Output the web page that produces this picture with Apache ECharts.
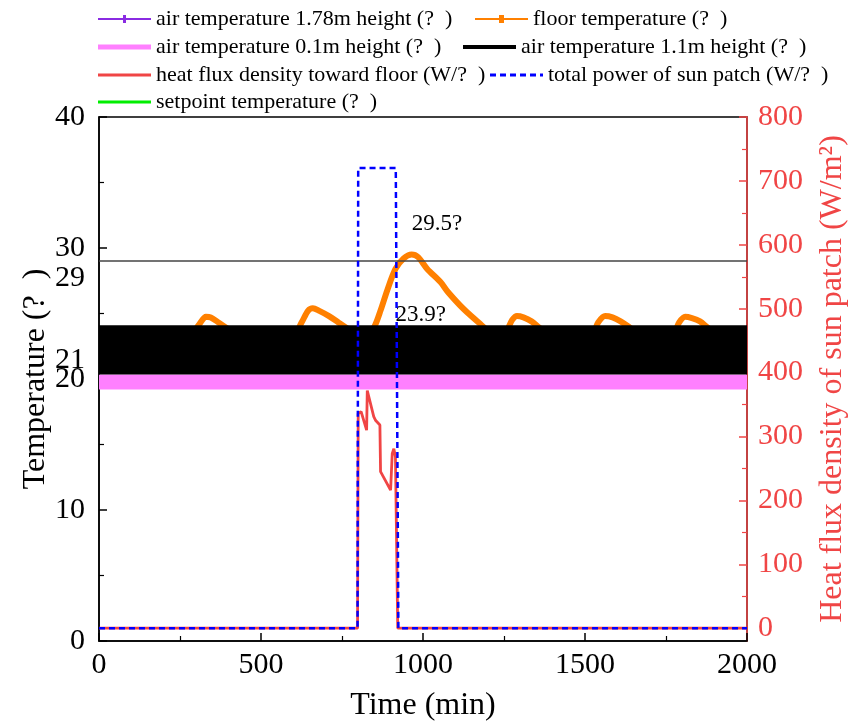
<!DOCTYPE html>
<html><head><meta charset="utf-8">
<script src="https://cdn.jsdelivr.net/npm/echarts@6/dist/echarts.min.js"></script>
<style>html,body{margin:0;padding:0;background:#fff}#c{width:850px;height:727px}</style>
</head><body><div id="c"></div>
<script>
// ---------- data ----------
const xRange = [0, 2000];
const xTicks = [0, 500, 1000, 1500, 2000];
const leftTicks = [0, 10, 20, 30, 40];
const leftExtraLabels = [29, 21];
const rightTicks = [0, 100, 200, 300, 400, 500, 600, 700, 800];
const rightMinorTicks = [50, 150, 250, 350, 450, 550, 650, 750];

const floorTime = [0, 280, 310, 330, 345, 370, 400, 430, 600, 625, 645, 660, 680, 710, 740, 770, 800, 830, 850, 870, 890, 915, 940, 965, 985, 1013, 1054, 1075, 1115, 1136, 1177, 1200, 1230, 1260, 1275, 1290, 1310, 1335, 1360, 1390, 1520, 1540, 1562, 1585, 1610, 1640, 1670, 1770, 1790, 1809, 1830, 1855, 1880, 1910, 2000];
const floorTemp = [23.3, 23.4, 24.2, 24.75, 24.7, 24.3, 23.8, 23.4, 23.4, 24.3, 25.2, 25.4, 25.2, 24.8, 24.3, 23.8, 23.4, 23.5, 24.0, 25.3, 26.8, 28.4, 29.2, 29.5, 29.3, 28.4, 27.4, 26.7, 25.6, 25.1, 24.2, 23.7, 23.4, 23.8, 24.5, 24.8, 24.7, 24.4, 23.9, 23.4, 23.4, 24.3, 24.8, 24.7, 24.4, 23.9, 23.4, 23.4, 24.3, 24.75, 24.65, 24.4, 23.9, 23.4, 23.4];

const air178Time = [0, 2000];
const air178Temp = [22.0, 22.0];

// 0.1 m air temperature: band between its lowest and highest values
const air01Time = [0, 2000];
const air01High = [20.35, 20.35];
const air01Low = 19.2;

// 1.1 m air temperature: band between its lowest and highest values
const air11Time = [0, 2000];
const air11High = [24.1, 24.1];
const air11Low = 20.35;

const setpointTime = [0, 2000];
const setpointTemp = [21, 21];

const fluxTime = [0, 798, 800, 809, 826, 828, 848, 854, 867, 869, 900, 905, 910, 915, 922, 2000];
const fluxVal  = [0, 0, 336, 339, 310, 372, 331, 325, 318, 245, 216, 273, 281, 268, 0, 0];

const sunTime = [0, 798, 800, 916, 924, 2000];
const sunVal  = [0, 0, 720, 720, 0, 0];

const refLineValue = 29;
const annotations = [
  { x: 965, y: 29.5, text: '29.5?', dy: -31 },
  { x: 915, y: 23.9, text: '23.9?', dy: -13 }
];

const names = {
  a178: 'air temperature 1.78m height (?  )',
  floor: 'floor temperature (?  )',
  a01: 'air temperature 0.1m height (?  )',
  a11: 'air temperature 1.1m height (?  )',
  flux: 'heat flux density toward floor (W/?  )',
  sun: 'total power of sun patch (W/?  )',
  set: 'setpoint temperature (?  )'
};

// ---------- styles ----------
const FONT = 'Liberation Serif';
const RED = '#f04545';
const zip = (a, b) => a.map((v, i) => [v, b[i]]);

const chart = echarts.init(document.getElementById('c'), null, { renderer: 'canvas' });

function legend(name, left, top, icon, h) {
  return {
    data: [{ name: name, icon: icon }], left: left, top: top, padding: 0, itemGap: 0,
    itemWidth: 53, itemHeight: h, selectedMode: false, symbolKeepAspect: false,
    textStyle: { fontFamily: FONT, fontSize: 22, color: '#000' }
  };
}
const markerLine = 'path://M0,3.2h53v1.6h-53z M25,1h3v6h-3z';
const squareLine = 'path://M0,3.2h53v1.6h-53z M24,1h5v6h-5z';
const dashLine = 'path://M0,0h6v3h-6z M10,0h6v3h-6z M20,0h6v3h-6z M30,0h6v3h-6z M40,0h6v3h-6z M50,0h3v3h-3z';

const option = {
  animation: false,
  backgroundColor: '#fff',
  legend: [
    legend(names.a178, 98, 8, markerLine, 8),
    legend(names.floor, 475, 8, squareLine, 8),
    legend(names.a01, 98, 36, 'rect', 5),
    legend(names.a11, 463, 36, 'rect', 4),
    legend(names.flux, 98, 64, 'rect', 3),
    legend(names.sun, 490, 64, dashLine, 3),
    legend(names.set, 98, 91, 'rect', 3)
  ],
  grid: { left: 99, right: 103, top: 117, bottom: 86, show: true, borderColor: '#000', borderWidth: 1.5,
          containLabel: false, outerBoundsMode: 'none' },
  xAxis: {
    type: 'value', min: xRange[0], max: xRange[1], interval: 500,
    name: 'Time (min)', nameLocation: 'middle', nameGap: 49, nameMoveOverlap: false,
    nameTextStyle: { fontFamily: FONT, fontSize: 32, color: '#000' },
    axisLine: { show: true, lineStyle: { color: '#000', width: 1.5 } },
    axisTick: { show: true, inside: true, length: 8, lineStyle: { color: '#000', width: 1.5 } },
    minorTick: { show: true, splitNumber: 2, length: 5, lineStyle: { color: '#000', width: 1.2 } },
    axisLabel: { fontFamily: FONT, fontSize: 30, color: '#000', margin: 9, customValues: xTicks, formatter: v => String(v) },
    splitLine: { show: false }
  },
  yAxis: [
    {
      type: 'value', position: 'left', min: 0, max: 40, interval: 10,
      name: 'Temperature (?  )', nameLocation: 'middle', nameGap: 47, nameMoveOverlap: false,
      nameTextStyle: { fontFamily: FONT, fontSize: 32, color: '#000' },
      axisLine: { show: true, lineStyle: { color: '#000', width: 1.5 } },
      axisTick: { show: true, inside: true, length: 8, lineStyle: { color: '#000', width: 1.5 } },
      minorTick: { show: true, splitNumber: 2, length: 5, lineStyle: { color: '#000', width: 1.2 } },
      axisLabel: { fontFamily: FONT, fontSize: 30, color: '#000', margin: 14, customValues: leftTicks, formatter: v => String(v) },
      splitLine: { show: false }
    },
    {
      type: 'value', position: 'right', min: -20, max: 800,
      name: 'Heat flux density of sun patch (W/m²)', nameLocation: 'middle', nameGap: 70, nameMoveOverlap: false,
      nameRotate: 90,
      nameTextStyle: { fontFamily: FONT, fontSize: 32, color: RED },
      axisLine: { show: true, lineStyle: { color: RED, width: 1.5 } },
      axisTick: { show: true, inside: true, length: 8, customValues: rightTicks, lineStyle: { color: RED, width: 1.5 } },
      axisLabel: { fontFamily: FONT, fontSize: 30, color: RED, margin: 11, customValues: rightTicks },
      splitLine: { show: false }
    },
    {
      type: 'value', position: 'right', min: -20, max: 800,
      axisLine: { show: false },
      axisTick: { show: true, inside: true, length: 5, customValues: rightMinorTicks, lineStyle: { color: RED, width: 1.2 } },
      axisLabel: { show: false },
      splitLine: { show: false }
    }
  ],
  series: [
    {
      name: names.set, type: 'line', yAxisIndex: 0, z: 2, data: zip(setpointTime, setpointTemp),
      symbol: 'none', lineStyle: { color: '#00ee00', width: 2 }, itemStyle: { color: '#00ee00' }
    },
    {
      name: names.a178, type: 'line', yAxisIndex: 0, z: 2, data: zip(air178Time, air178Temp),
      symbol: 'none', lineStyle: { color: '#8a2be2', width: 1.5 }, itemStyle: { color: '#8a2be2' }
    },
    {
      name: names.a01, type: 'line', yAxisIndex: 0, z: 3, data: zip(air01Time, air01High),
      symbol: 'none', lineStyle: { color: '#ff80ff', width: 0 }, itemStyle: { color: '#ff80ff' },
      areaStyle: { color: '#ff80ff', opacity: 1, origin: air01Low }
    },
    {
      name: names.floor, type: 'line', yAxisIndex: 0, z: 3, data: zip(floorTime, floorTemp),
      symbol: 'none', smooth: 0.3,
      lineStyle: { color: '#ff8000', width: 6 }, itemStyle: { color: '#ff8000' }
    },
    {
      name: names.a11, type: 'line', yAxisIndex: 0, z: 4, data: zip(air11Time, air11High),
      symbol: 'none', lineStyle: { color: '#000', width: 0 }, itemStyle: { color: '#000' },
      areaStyle: { color: '#000', opacity: 1, origin: air11Low },
      markLine: {
        silent: true, symbol: 'none', label: { show: false },
        lineStyle: { color: '#444', width: 1.5, type: 'solid' },
        data: [{ yAxis: refLineValue }]
      },
      markPoint: {
        symbol: 'circle', symbolSize: 0,
        data: annotations.map(a => ({
          coord: [a.x, a.y], value: a.text,
          label: { show: true, formatter: a.text, position: [0, a.dy], align: 'left', verticalAlign: 'middle',
                   fontFamily: FONT, fontSize: 23, color: '#000' }
        }))
      }
    },
    {
      name: names.flux, type: 'line', yAxisIndex: 1, z: 5, data: zip(fluxTime, fluxVal),
      symbol: 'none', lineStyle: { color: RED, width: 2.8 }, itemStyle: { color: RED }
    },
    {
      name: names.sun, type: 'line', yAxisIndex: 1, z: 6, data: zip(sunTime, sunVal),
      symbol: 'none', lineStyle: { color: '#0000ff', width: 2.5, type: [6, 4] }, itemStyle: { color: '#0000ff' }
    }
  ]
};
chart.setOption(option);

// extra left-axis labels (29, 21) placed next to their values
const axisX = chart.convertToPixel({ xAxisIndex: 0 }, xRange[0]);
const labelShift = { 29: 17, 21: -6 };
chart.setOption({
  graphic: leftExtraLabels.map(v => ({
    type: 'text', silent: true,
    x: axisX - 14, y: chart.convertToPixel({ yAxisIndex: 0 }, v) + labelShift[v],
    style: { text: String(v), fontFamily: FONT, fontSize: 30, fill: '#000', align: 'right', verticalAlign: 'middle' }
  }))
});
</script>
</body></html>
